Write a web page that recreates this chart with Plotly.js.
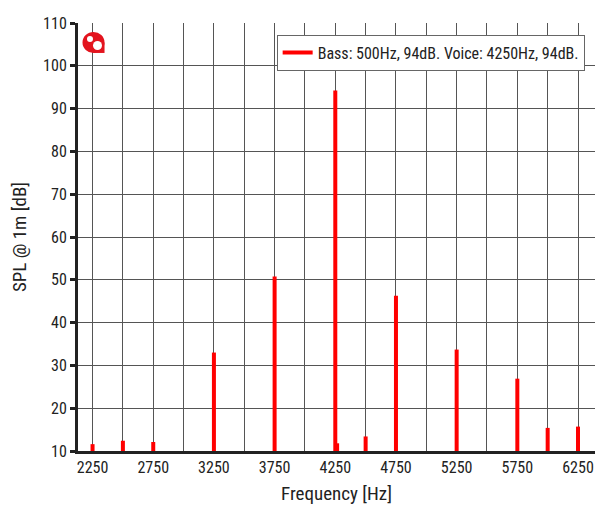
<!DOCTYPE html>
<html>
<head>
<meta charset="utf-8">
<script src="https://cdn.plot.ly/plotly-3.0.1.min.js"></script>
<style>html,body{margin:0;padding:0;background:#fff}#chart{width:602px;height:509px}</style>
</head>
<body>
<div id="chart"></div>
<script>
// Data
const frequencies = [2250, 2500, 2750, 3250, 3750, 4250, 4265, 4500, 4750, 5250, 5750, 6000, 6250];
const splValues   = [11.6, 12.4, 12.1, 33.0, 50.8, 94.2, 11.8, 13.4, 46.3, 33.7, 26.9, 15.4, 15.7];
const baseLevel = 10;
const seriesName = 'Bass: 500Hz, 94dB. Voice: 4250Hz, 94dB.';
const xTickVals = [2250, 2750, 3250, 3750, 4250, 4750, 5250, 5750, 6250];

const xs = [], ys = [];
frequencies.forEach((f, i) => { xs.push(f, f, null); ys.push(baseLevel, splValues[i], null); });

const font = "'Roboto Condensed', 'Liberation Sans Narrow', Roboto, sans-serif";

const trace = {
  x: xs, y: ys, type: 'scatter', mode: 'lines', name: seriesName,
  line: {color: '#ff0000', width: 4}, connectgaps: false, showlegend: true
};

const layout = {
  width: 602, height: 509,
  margin: {l: 78, r: 7, t: 23, b: 58},
  paper_bgcolor: '#fff', plot_bgcolor: '#fff',
  font: {family: font, size: 15, color: '#222'},
  showlegend: true,
  legend: {
    x: 0.98, y: 0.973, xanchor: 'right', yanchor: 'top',
    bgcolor: '#fff', bordercolor: '#666', borderwidth: 1,
    font: {family: font, size: 16, color: '#222'}
  },
  xaxis: {
    range: [2130, 6390], tickmode: 'array', tickvals: xTickVals,
    showgrid: true, gridcolor: '#555', gridwidth: 1,
    minor: {dtick: 250, tick0: 2250, showgrid: true, gridcolor: '#555', gridwidth: 1},
    showline: true, linecolor: '#222', linewidth: 3,
    ticks: '', zeroline: false,
    title: {text: 'Frequency [Hz]', font: {family: font, size: 19, color: '#222'}, standoff: 11},
    tickfont: {family: font, size: 16, color: '#222'}
  },
  yaxis: {
    range: [10, 110], dtick: 10, tick0: 10,
    showgrid: true, gridcolor: '#555', gridwidth: 1,
    showline: true, linecolor: '#222', linewidth: 3,
    ticks: 'outside', ticklen: 5, tickwidth: 3, tickcolor: '#222', zeroline: false,
    title: {text: 'SPL @ 1m [dB]', font: {family: font, size: 19, color: '#222'}, standoff: 12},
    tickfont: {family: font, size: 16, color: '#222'}
  },
  shapes: [
    {type: 'circle', xref: 'paper', yref: 'paper', x0: 0.0087, x1: 0.0513, y0: 0.930, y1: 0.979, fillcolor: '#e3141e', line: {width: 0}},
    {type: 'rect', xref: 'paper', yref: 'paper', x0: 0.030, x1: 0.0513, y0: 0.930, y1: 0.9544, fillcolor: '#e3141e', line: {width: 0}},
    {type: 'circle', xref: 'paper', yref: 'paper', x0: 0.0174, x1: 0.029, y0: 0.9556, y1: 0.9696, fillcolor: '#fff', line: {width: 0}},
    {type: 'circle', xref: 'paper', yref: 'paper', x0: 0.029, x1: 0.0464, y0: 0.9369, y1: 0.958, fillcolor: '#fff', line: {width: 0}}
  ]
};

Plotly.newPlot('chart', [trace], layout, {displayModeBar: false, staticPlot: true});
</script>
</body>
</html>
